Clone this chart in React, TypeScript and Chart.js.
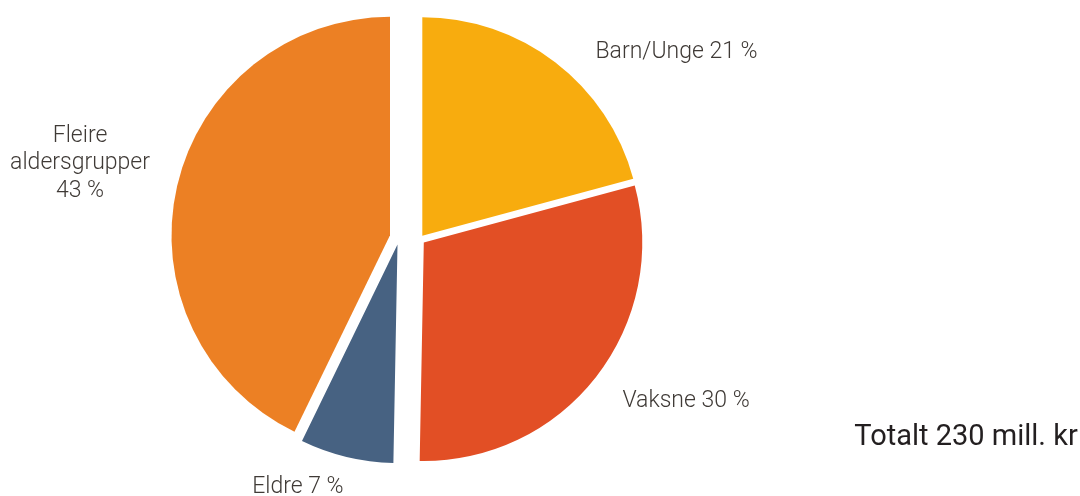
import React, { useEffect, useRef } from 'react';
import { Chart, registerables } from 'chart.js';

Chart.register(...registerables);

// ---- data ----
const categories = ['Barn/Unge', 'Vaksne', 'Eldre', 'Fleire aldersgrupper'];
const shares = [20.8, 29.5, 6.9, 42.8];
const percentLabels = ['21 %', '30 %', '7 %', '43 %'];
const sliceColors = ['#F8AC0E', '#E24F25', '#476282', '#EC8024'];
const totalText = 'Totalt 230 mill. kr';

// ---- layout / style ----
const W = 1080;
const H = 496;
const PIE_CENTER = { x: 406, y: 240 };
const RADIUS = 218.5;
// explosion of each slice away from the pie centre (px)
const explode = [
  { dx: 16.3, dy: -4.2 },
  { dx: 17.8, dy: 2.5 },
  { dx: -8.5, dy: 4.5 },
  { dx: -16, dy: -4.7 },
];
// label anchor shift relative to the outer midpoint of the slice (px)
const labelShift = [
  { dx: 121.4, dy: -4 },
  { dx: 90, dy: 30.1 },
  { dx: -48.6, dy: 36.1 },
  { dx: -97, dy: -44.3 },
];
const LABEL_FONT = '300 23px Roboto, "DejaVu Sans", sans-serif';
const LABEL_COLOR = '#3f3a36';
const LABEL_LINE_H = 27.5;
const NOTE_FONT = '400 29px Roboto, "DejaVu Sans", sans-serif';
const NOTE_COLOR = '#231f20';
const NOTE_POS = { x: 966, y: 445 };

const labelLines: string[][] = categories.map((c, i) =>
  i === 3 ? [...c.split(' '), percentLabels[i]] : [`${c} ${percentLabels[i]}`]
);

function makeLabelPlugin(index: number, withNote: boolean) {
  return {
    id: 'sliceLabel' + index,
    afterDatasetsDraw(chart: any) {
      const meta = chart.getDatasetMeta(0);
      const arc: any = meta.data[index];
      if (!arc) return;
      const { x, y, startAngle, endAngle, outerRadius } = arc;
      const mid = (startAngle + endAngle) / 2;
      const ax = x + Math.cos(mid) * outerRadius + labelShift[index].dx;
      const ay = y + Math.sin(mid) * outerRadius + labelShift[index].dy;
      const ctx = chart.ctx;
      ctx.save();
      ctx.font = LABEL_FONT;
      ctx.fillStyle = LABEL_COLOR;
      ctx.textAlign = 'center';
      ctx.textBaseline = 'alphabetic';
      labelLines[index].forEach((t, k) => ctx.fillText(t, ax, ay + k * LABEL_LINE_H));
      if (withNote) {
        ctx.font = NOTE_FONT;
        ctx.fillStyle = NOTE_COLOR;
        ctx.fillText(totalText, NOTE_POS.x, NOTE_POS.y);
      }
      ctx.restore();
    },
  };
}

function SlicePie({ index }: { index: number }) {
  const ref = useRef<HTMLCanvasElement | null>(null);
  useEffect(() => {
    if (!ref.current) return;
    const cx = PIE_CENTER.x + explode[index].dx;
    const cy = PIE_CENTER.y + explode[index].dy;
    const chart = new Chart(ref.current, {
      type: 'pie',
      data: {
        labels: categories,
        datasets: [
          {
            data: shares,
            backgroundColor: sliceColors.map((c, j) => (j === index ? c : 'rgba(0,0,0,0)')),
            borderWidth: 0,
          },
        ],
      },
      options: {
        responsive: false,
        animation: false,
        events: [],
        radius: RADIUS,
        layout: { padding: { left: 0, top: 0, right: W - 2 * cx, bottom: H - 2 * cy } },
        plugins: {
          legend: { display: false },
          tooltip: { enabled: false },
        },
      } as any,
      plugins: [makeLabelPlugin(index, index === 3)],
    });
    return () => chart.destroy();
  }, [index]);
  return (
    <canvas
      ref={ref}
      width={W}
      height={H}
      style={{ position: 'absolute', left: 0, top: 0, width: W, height: H }}
    />
  );
}

export default function App() {
  return (
    <div
      style={{
        position: 'fixed',
        left: 0,
        top: 0,
        width: W,
        height: H,
        background: '#ffffff',
        overflow: 'hidden',
      }}
    >
      {[0, 1, 2, 3].map((i) => (
        <SlicePie key={i} index={i} />
      ))}
    </div>
  );
}
